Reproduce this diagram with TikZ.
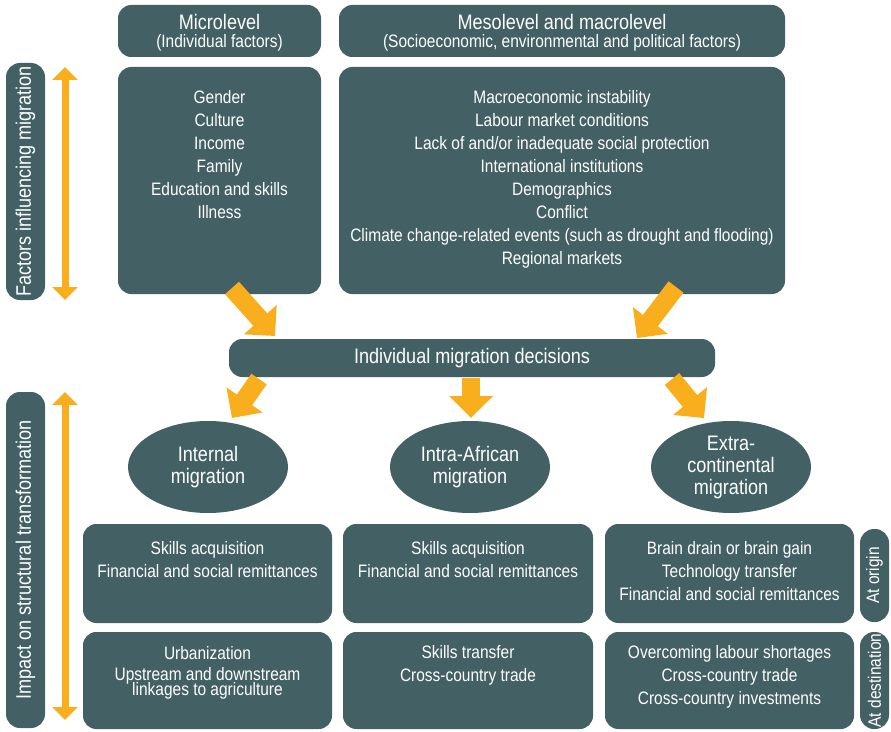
\documentclass[tikz,border=0pt]{standalone}
\usepackage{fontspec}
\setmainfont{Liberation Sans}[FakeStretch=0.86]
\usetikzlibrary{arrows.meta,fit,shapes.geometric}
\definecolor{boxc}{HTML}{436064}
\definecolor{arr}{HTML}{F9AE1E}
\newcommand\fbody{\fontsize{13.5pt}{17.25pt}\selectfont}
\newcommand\fbig{\fontsize{15.75pt}{16.5pt}\selectfont}
\begin{document}
\begin{tikzpicture}[x=0.75pt,y=-0.75pt,
  box/.style={fill=boxc, draw=none, rounded corners=10pt, inner sep=0pt},
  side/.style={fill=boxc, draw=none, rounded corners=10.5pt, inner sep=0pt},
  txt/.style={text=white, align=center, inner sep=0pt, font=\fbody},
  ell/.style={ellipse, fill=boxc, draw=none, inner sep=0pt, minimum width=120pt, minimum height=69pt, text=white, align=center, font=\fbig},
  fat/.style={draw=arr, line width=14pt, -{Triangle[width=32pt,length=16.5pt]}},
  dbl/.style={draw=arr, line width=5.25pt, {Triangle[width=18.75pt,length=9.75pt]}-{Triangle[width=18.75pt,length=9.75pt]}}]
\useasboundingbox (0,0) rectangle (891,731);

% headers
\node[box, fit={(118,5)(321,57)}] (mich) {};
\node[txt, anchor=north] at (219.5,14) {{\fbig Microlevel}\\[-3.75pt](Individual factors)};
\node[box, fit={(339,5)(785,57)}] (mesh) {};
\node[txt, anchor=north] at (562,14) {{\fbig Mesolevel and macrolevel}\\[-3.75pt](Socioeconomic, environmental and political factors)};

% factor boxes
\node[box, fit={(118,67)(321,294)}] (micb) {};
\node[txt, anchor=north] (mict) at (219.5,90) {Gender\\Culture\\Income\\Family\\Education and skills\\Illness};
\node[box, fit={(339,67)(785,294)}] (mesb) {};
\node[txt, anchor=north] (mest) at (562,90) {Macroeconomic instability\\Labour market conditions\\Lack of and/or inadequate social protection\\International institutions\\Demographics\\Conflict\\Climate change-related events (such as drought and flooding)\\Regional markets};

% left labels
\node[side, fit={(6,63)(45,300)}] (lab1) {};
\node[txt, font=\fbig, rotate=90] at (lab1.center) {Factors influencing migration};
\node[side, fit={(6,392)(45,728)}] (lab2) {};
\node[txt, font=\fbig, rotate=90] at (lab2.center) {Impact on structural transformation};

\coordinate (d1a) at (65,67);
\coordinate (d1b) at (65,300);
\coordinate (d2a) at (65,392);
\coordinate (d2b) at (65,720);
\draw[dbl] (d1a) -- (d1b);
\draw[dbl] (d2a) -- (d2b);

% decision
\node[box, fit={(229,339)(715,377)}] (dec) {};
\node[txt, font=\fbig] at (472,358.5) {Individual migration decisions};

% ellipses
\node[ell] (int) at (208,467) {Internal\\migration};
\node[ell] (afr) at (470,467) {Intra-African\\migration};
\node[ell] (ext) at (731,467) {Extra-\\continental\\migration};

% fat arrows
\coordinate (ta1) at (232,288);
\coordinate (hb1) at (275,336);
\coordinate (ta2) at (676,287);
\coordinate (hb2) at (637,338);
\draw[fat] (ta1) -- (hb1);
\draw[fat] (ta2) -- (hb2);
\coordinate (ta3) at (259,379);
\coordinate (ta4) at (471,378);
\coordinate (ta5) at (672,379);
\draw[fat] (ta3) -- (232,418);
\draw[fat] (ta4) -- (471,418);
\draw[fat] (ta5) -- (704,418);

% impact boxes row 1
\node[box, fit={(83,524)(332,623)}] (r1a) {};
\node[txt, anchor=north] at (207.5,541) {Skills acquisition\\Financial and social remittances};
\node[box, fit={(343,524)(593,623)}] (r1b) {};
\node[txt, anchor=north] at (468,541) {Skills acquisition\\Financial and social remittances};
\node[box, fit={(605,524)(854,623)}] (r1c) {};
\node[txt, anchor=north] at (729.5,541) {Brain drain or brain gain\\Technology transfer\\Financial and social remittances};
\node[side, fit={(860,529)(889,622)}] (orig) {};
\node[txt, rotate=90] at (orig.center) {At origin};

% row 2
\node[box, fit={(83,632)(332,729)}] (r2a) {};
\node[txt, anchor=north] at (207.5,646) {Urbanization\\[-1pt]Upstream and downstream\\[-6pt]linkages to agriculture};
\node[box, fit={(343,632)(593,729)}] (r2b) {};
\node[txt, anchor=north] at (468,645) {Skills transfer\\Cross-country trade};
\node[box, fit={(605,632)(854,729)}] (r2c) {};
\node[txt, anchor=north] at (729.5,645) {Overcoming labour shortages\\Cross-country trade\\Cross-country investments};
\node[side, fit={(860,632)(889,729)}] (dest) {};
\node[txt, rotate=90] at (dest.center) {At destination};
\end{tikzpicture}
\end{document}
